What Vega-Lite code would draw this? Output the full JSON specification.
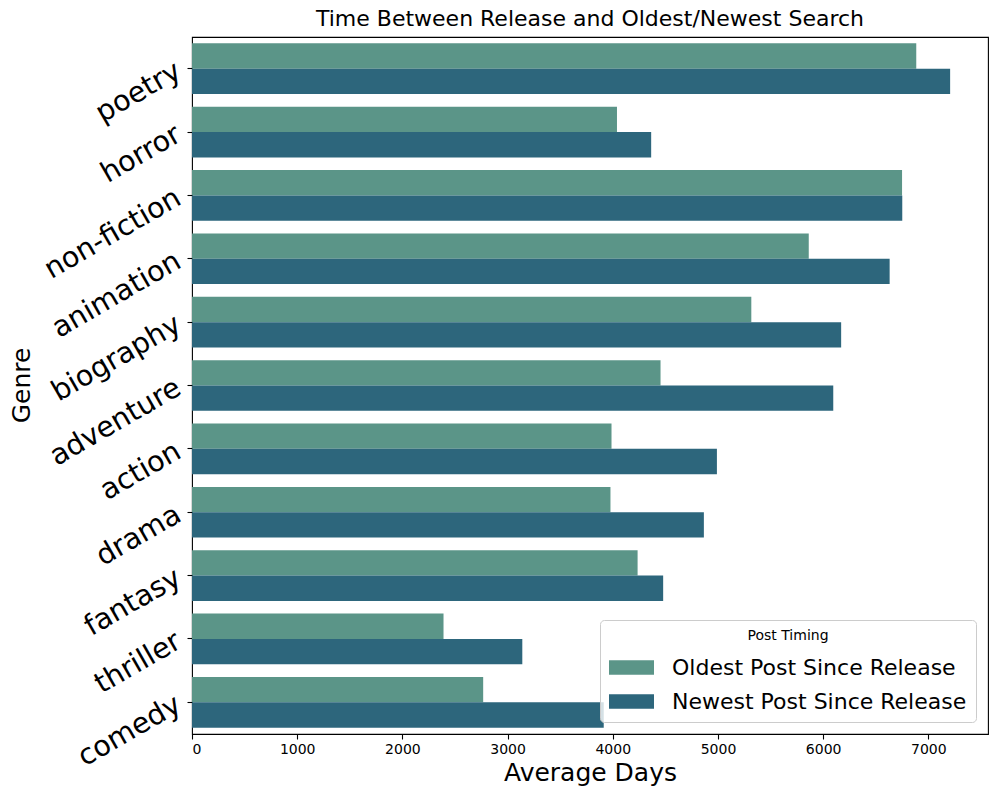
{
  "$schema": "https://vega.github.io/schema/vega-lite/v6.json",
  "autosize": {"type": "none"},
  "padding": {"left": 192, "top": 37, "right": 8, "bottom": 62},
  "width": 796,
  "height": 697,
  "background": "white",
  "config": {
    "font": "DejaVu Sans",
    "view": {"stroke": "black", "strokeWidth": 1.1},
    "axis": {"grid": false, "domain": false, "tickColor": "black", "tickWidth": 1.1, "tickSize": 5, "labelColor": "black", "titleColor": "black", "titleFontWeight": "normal"}
  },
  "title": {"text": "Time Between Release and Oldest/Newest Search", "fontSize": 22, "fontWeight": "normal", "font": "DejaVu Sans", "color": "black", "anchor": "middle", "offset": 6},
  "data": {
    "values": [
      {"genre": "poetry", "timing": "Oldest Post Since Release", "days": 6885},
      {"genre": "poetry", "timing": "Newest Post Since Release", "days": 7207},
      {"genre": "horror", "timing": "Oldest Post Since Release", "days": 4040},
      {"genre": "horror", "timing": "Newest Post Since Release", "days": 4365},
      {"genre": "non-fiction", "timing": "Oldest Post Since Release", "days": 6750},
      {"genre": "non-fiction", "timing": "Newest Post Since Release", "days": 6752},
      {"genre": "animation", "timing": "Oldest Post Since Release", "days": 5863},
      {"genre": "animation", "timing": "Newest Post Since Release", "days": 6632},
      {"genre": "biography", "timing": "Oldest Post Since Release", "days": 5317},
      {"genre": "biography", "timing": "Newest Post Since Release", "days": 6171},
      {"genre": "adventure", "timing": "Oldest Post Since Release", "days": 4454},
      {"genre": "adventure", "timing": "Newest Post Since Release", "days": 6096},
      {"genre": "action", "timing": "Oldest Post Since Release", "days": 3988},
      {"genre": "action", "timing": "Newest Post Since Release", "days": 4990},
      {"genre": "drama", "timing": "Oldest Post Since Release", "days": 3978},
      {"genre": "drama", "timing": "Newest Post Since Release", "days": 4866},
      {"genre": "fantasy", "timing": "Oldest Post Since Release", "days": 4236},
      {"genre": "fantasy", "timing": "Newest Post Since Release", "days": 4479},
      {"genre": "thriller", "timing": "Oldest Post Since Release", "days": 2391},
      {"genre": "thriller", "timing": "Newest Post Since Release", "days": 3140},
      {"genre": "comedy", "timing": "Oldest Post Since Release", "days": 2768},
      {"genre": "comedy", "timing": "Newest Post Since Release", "days": 3914}
    ]
  },
  "mark": {"type": "bar"},
  "encoding": {
    "y": {
      "field": "genre", "type": "nominal", "sort": null,
      "scale": {"paddingInner": 0.2, "paddingOuter": 0.1},
      "axis": {"title": "Genre", "titleFontSize": 25, "titleAngle": -90, "titleX": -171, "titleY": 348, "titleBaseline": "middle", "titleAlign": "center", "labelFontSize": 28.5, "labelAngle": -30, "labelAlign": "right", "labelBaseline": "middle", "labelPadding": 9, "labelLimit": 300}
    },
    "yOffset": {
      "field": "timing", "type": "nominal",
      "scale": {"domain": ["Oldest Post Since Release", "Newest Post Since Release"], "paddingInner": 0, "paddingOuter": 0}
    },
    "x": {
      "field": "days", "type": "quantitative",
      "scale": {"domain": [0, 7567], "nice": false, "zero": true},
      "axis": {"title": "Average Days", "titleFontSize": 25, "titlePadding": 4, "labelFontSize": 14, "labelPadding": 3, "format": "d", "values": [0, 1000, 2000, 3000, 4000, 5000, 6000, 7000]}
    },
    "color": {
      "field": "timing", "type": "nominal",
      "scale": {"domain": ["Oldest Post Since Release", "Newest Post Since Release"], "range": ["#5b9588", "#2d667c"]},
      "legend": {
        "title": "Post Timing", "orient": "bottom-right", "offset": 12,
        "titleFontSize": 14, "titleFontWeight": "normal", "titleColor": "black", "titleAnchor": "middle", "titleAlign": "center", "titlePadding": 2,
        "labelFontSize": 22, "labelColor": "black", "labelOffset": 18, "labelLimit": 400,
        "symbolType": "M-1,-0.32H1V0.32H-1Z", "symbolSize": 2025, "symbolStrokeWidth": 0, "symbolOpacity": 1,
        "rowPadding": 0, "padding": 9,
        "fillColor": "rgba(255,255,255,0.8)", "strokeColor": "#cccccc", "cornerRadius": 4
      }
    }
  }
}
